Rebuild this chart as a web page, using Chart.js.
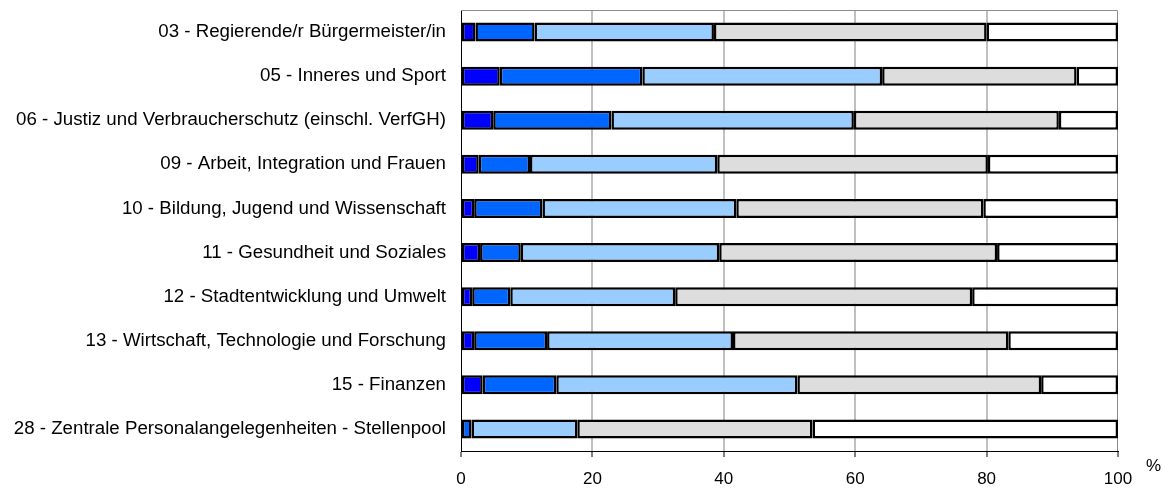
<!DOCTYPE html>
<html>
<head>
<meta charset="utf-8">
<script src="https://cdn.jsdelivr.net/npm/chart.js@4"></script>
<style>
  html, body { margin: 0; padding: 0; background: #fff; }
  #wrap { width: 1170px; height: 488px; }
</style>
</head>
<body>
<div id="wrap"><canvas id="myChart"></canvas></div>
<script>
const categories = [
  "03 - Regierende/r Bürgermeister/in",
  "05 - Inneres und Sport",
  "06 - Justiz und Verbraucherschutz (einschl. VerfGH)",
  "09 - Arbeit, Integration und Frauen",
  "10 - Bildung, Jugend und Wissenschaft",
  "11 - Gesundheit und Soziales",
  "12 - Stadtentwicklung und Umwelt",
  "13 - Wirtschaft, Technologie und Forschung",
  "15 - Finanzen",
  "28 - Zentrale Personalangelegenheiten - Stellenpool",
];
// five stacked shares per department, in percent
const seg1 = [2.2, 5.9, 4.9, 2.7, 2.0, 2.9, 1.7, 2.0, 3.3, 0];
const seg2 = [9.0, 21.7, 18.0, 7.8, 10.4, 6.2, 5.8, 11.1, 11.2, 1.6];
const seg3 = [27.3, 36.5, 36.9, 28.5, 29.5, 30.2, 25.1, 28.3, 36.7, 16.1];
const seg4 = [41.5, 29.6, 31.2, 41.2, 37.6, 42.3, 45.2, 41.9, 37.1, 35.8];
const seg5 = [20.0, 6.3, 9.0, 19.8, 20.5, 18.4, 22.2, 16.7, 11.7, 46.5];
const xTicks = [0, 20, 40, 60, 80, 100];

const colors = ["#0000ff", "#0066ff", "#99ccff", "#dddddd", "#ffffff"];
const FONT = "'Liberation Sans', Arial, sans-serif";

const frame = {
  id: "frame",
  beforeDatasetsDraw(chart) {
    // grey box round the plot area
    const { ctx, chartArea: a } = chart;
    ctx.save();
    ctx.strokeStyle = "#8c8c8c";
    ctx.lineWidth = 1;
    ctx.beginPath();
    ctx.moveTo(a.left, a.top + 0.5);
    ctx.lineTo(a.right - 0.5, a.top + 0.5);
    ctx.lineTo(a.right - 0.5, a.bottom);
    ctx.stroke();
    ctx.restore();
  },
  afterDraw(chart) {
    const { ctx, chartArea: a } = chart;
    ctx.save();
    ctx.fillStyle = "#000";
    ctx.font = "17px " + FONT;
    ctx.textBaseline = "middle";
    ctx.fillText("%", a.right + 28, a.bottom + 15);
    ctx.restore();
  },
};

const ctx = document.getElementById("myChart");
new Chart(ctx, {
  type: "bar",
  data: {
    labels: categories,
    datasets: [seg1, seg2, seg3, seg4, seg5].map((d, i) => ({
      data: d,
      backgroundColor: colors[i],
      borderColor: "#000",
      borderWidth: 2.5,
      borderSkipped: false,
      barPercentage: 0.43,
      categoryPercentage: 1,
    })),
  },
  options: {
    indexAxis: "y",
    responsive: true,
    maintainAspectRatio: false,
    animation: false,
    layout: { padding: { top: 10, right: 52, bottom: 0, left: 0 } },
    plugins: {
      legend: { display: false },
      tooltip: { enabled: false },
    },
    scales: {
      x: {
        stacked: true,
        min: 0,
        max: 100,
        afterBuildTicks: (s) => {
          s.ticks = xTicks.map((v) => ({ value: v }));
        },
        afterFit: (s) => {
          s.height = 37;
          s.paddingLeft = 0;
          s.paddingRight = 0;
        },
        grid: {
          color: (c) => (c.tick && c.tick.value > 0 && c.tick.value < 100 ? "#c0c0c0" : "rgba(0,0,0,0)"),
          lineWidth: 2,
          tickColor: "#000",
          tickLength: 6,
          tickWidth: 1,
        },
        border: { display: true, color: "#000", width: 1 },
        ticks: {
          color: "#000",
          font: { size: 17, family: FONT },
          padding: 12,
          maxRotation: 0,
        },
      },
      y: {
        stacked: true,
        afterFit: (s) => {
          s.width = 461;
          s.paddingTop = 0;
          s.paddingBottom = 0;
        },
        grid: { display: false, drawTicks: false },
        border: { display: true, color: "#000", width: 1 },
        ticks: {
          color: "#000",
          font: { size: 18.7, family: FONT },
          padding: 15,
        },
      },
    },
  },
  plugins: [frame],
});
</script>
</body>
</html>
